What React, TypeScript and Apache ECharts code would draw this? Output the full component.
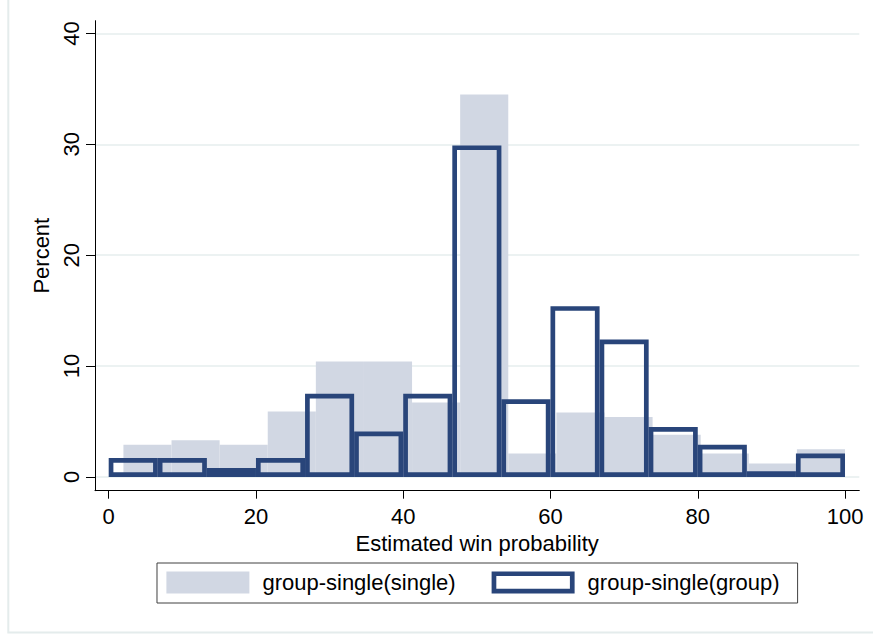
import React, { useEffect, useRef } from 'react';
import * as echarts from 'echarts';

// ---- data ----
const seriesNames = ['group-single(single)', 'group-single(group)'];
const singleBinStart = 2;
const singleBinEnd = 100;
const singlePercent = [2.9, 3.3, 2.9, 5.9, 10.4, 10.4, 6.7, 34.5, 2.1, 5.8, 5.4, 3.8, 2.1, 1.2, 2.5];
const groupBinStart = 0;
const groupBinEnd = 100;
const groupPercent = [1.7, 1.7, 0.8, 1.7, 7.5, 4.1, 7.5, 29.9, 7.0, 15.4, 12.4, 4.5, 2.9, 0.5, 2.1];
const xTicks = [0, 20, 40, 60, 80, 100];
const yTicks = [0, 10, 20, 30, 40];
const xRange = [-1.86, 101.94];
const yRange = [-1.245, 41.15];
const xTitle = 'Estimated win probability';
const yTitle = 'Percent';

// ---- styles ----
const FONT = "'Liberation Sans', Arial, Helvetica, sans-serif";
const GRAY = '#d1d7e3';
const NAVY = '#29457a';
const SW = 4.7;
const GRID = '#e6eeee';

function toBins(start: number, end: number, values: number[]) {
  const w = (end - start) / values.length;
  return values.map((v, i) => [start + i * w, start + (i + 1) * w, v]);
}

export default function App() {
  const ref = useRef<HTMLDivElement>(null);
  useEffect(() => {
    if (!ref.current) return;
    const chart = echarts.init(ref.current, null, { renderer: 'svg' });
    const singleBins = toBins(singleBinStart, singleBinEnd, singlePercent);
    const groupBins = toBins(groupBinStart, groupBinEnd, groupPercent);

    const option: any = {
      animation: false,
      backgroundColor: '#ffffff',
      textStyle: { fontFamily: FONT },
      grid: { left: 95, right: 13.7, top: 20.7, bottom: 143.3, containLabel: false },
      graphic: [
        {
          type: 'rect',
          silent: true,
          z: -10,
          shape: { x: 8.3, y: -10, width: 900, height: 642.5 },
          style: { fill: 'none', stroke: '#e4ecec', lineWidth: 2 },
        },
      ],
      xAxis: {
        type: 'value',
        min: xRange[0],
        max: xRange[1],
        name: xTitle,
        nameLocation: 'middle',
        nameGap: 38,
        nameTextStyle: { fontSize: 22, color: '#000', fontFamily: FONT },
        axisLine: { show: true, onZero: false, lineStyle: { color: '#000', width: 1 } },
        axisTick: { show: true, length: 8, customValues: xTicks, lineStyle: { color: '#000' } },
        axisLabel: { customValues: xTicks, margin: 14.5, fontSize: 22, color: '#000', fontFamily: FONT },
        splitLine: { show: false },
      },
      yAxis: {
        type: 'value',
        min: yRange[0],
        max: yRange[1],
        name: yTitle,
        nameLocation: 'middle',
        nameGap: 35,
        nameTextStyle: { fontSize: 22, color: '#000', fontFamily: FONT },
        axisLine: { show: true, onZero: false, lineStyle: { color: '#000', width: 1 } },
        axisTick: { show: true, length: 9, customValues: yTicks, lineStyle: { color: '#000' } },
        axisLabel: { customValues: yTicks, rotate: 90, margin: 13, fontSize: 22, color: '#000', fontFamily: FONT },
        splitLine: { show: true, lineStyle: { color: GRID, width: 1.5 } },
      },
      legend: {
        left: 157,
        top: 563,
        orient: 'horizontal',
        selectedMode: false,
        padding: [8.4, 18, 9.6, 9.4],
        itemWidth: 83,
        itemHeight: 22,
        itemGap: 36,
        borderColor: '#404040',
        borderWidth: 1,
        textStyle: { fontSize: 22, color: '#000', fontFamily: FONT, padding: [0, 0, 0, 8] },
        data: [
          { name: seriesNames[0], icon: 'rect', itemStyle: { color: GRAY, borderWidth: 0 } },
          {
            name: seriesNames[1],
            icon: 'path://M0,0H83V22H0Z M4.7,4.7V17.3H78.3V4.7Z',
            itemStyle: { color: NAVY, borderWidth: 0 },
          },
        ],
      },
      series: [
        {
          name: seriesNames[0],
          type: 'custom',
          data: singleBins,
          encode: { x: [0, 1], y: 2 },
          itemStyle: { color: GRAY },
          renderItem: (params: any, api: any) => {
            const a = api.coord([api.value(0), api.value(2)]);
            const b = api.coord([api.value(1), 0]);
            return {
              type: 'rect',
              shape: { x: a[0], y: a[1], width: b[0] - a[0], height: b[1] - a[1] },
              style: { fill: GRAY },
            };
          },
        },
        {
          name: seriesNames[1],
          type: 'custom',
          data: groupBins,
          encode: { x: [0, 1], y: 2 },
          itemStyle: { color: NAVY },
          renderItem: (params: any, api: any) => {
            const a = api.coord([api.value(0), api.value(2)]);
            const b = api.coord([api.value(1), 0]);
            const x = a[0];
            const y = a[1];
            const w = b[0] - a[0];
            const h = b[1] - a[1];
            if (h <= SW * 1.6) {
              return { type: 'rect', shape: { x, y, width: w, height: h }, style: { fill: NAVY } };
            }
            return {
              type: 'rect',
              shape: { x: x + SW / 2, y: y + SW / 2, width: w - SW, height: h - SW },
              style: { fill: 'none', stroke: NAVY, lineWidth: SW },
            };
          },
        },
      ],
    };
    chart.setOption(option);
    return () => chart.dispose();
  }, []);

  return (
    <div
      ref={ref}
      style={{ position: 'fixed', left: 0, top: 0, width: 873, height: 634, background: '#fff' }}
    />
  );
}
